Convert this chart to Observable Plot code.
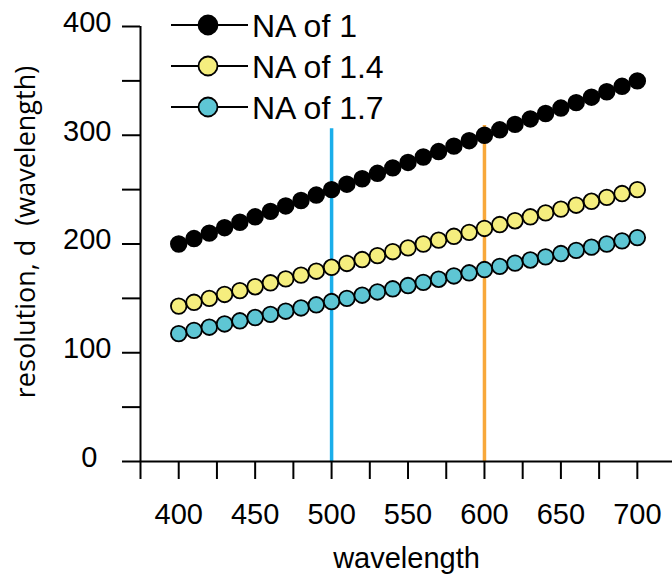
<!DOCTYPE html>
<html><head><meta charset="utf-8">
<script src="https://cdn.jsdelivr.net/npm/d3@7"></script>
<script src="https://cdn.jsdelivr.net/npm/@observablehq/plot@0.6"></script>
<style>
body{margin:0;background:#fff}
#chart{position:relative;width:672px;height:575px}
</style>
</head><body><div id="chart"></div>
<script>
// ---- data ----
const wavelengths = [400,410,420,430,440,450,460,470,480,490,500,510,520,530,540,550,560,570,580,590,600,610,620,630,640,650,660,670,680,690,700];
const seriesNames = ["NA of 1", "NA of 1.4", "NA of 1.7"];
const seriesFills = ["#000000", "#f5ee7e", "#5ec6d4"];
const naOf1 = [200,205,210,215,220,225,230,235,240,245,250,255,260,265,270,275,280,285,290,295,300,305,310,315,320,325,330,335,340,345,350];
const naOf14 = [142.9,146.4,150.0,153.6,157.1,160.7,164.3,167.9,171.4,175.0,178.6,182.1,185.7,189.3,192.9,196.4,200.0,203.6,207.1,210.7,214.3,217.9,221.4,225.0,228.6,232.1,235.7,239.3,242.9,246.4,250.0];
const naOf17 = [117.6,120.6,123.5,126.5,129.4,132.4,135.3,138.2,141.2,144.1,147.1,150.0,152.9,155.9,158.8,161.8,164.7,167.6,170.6,173.5,176.5,179.4,182.4,185.3,188.2,191.2,194.1,197.1,200.0,202.9,205.9];
const guideWavelengths = [500, 600];
const guideTops = [306, 309];
const guideColors = ["#1aaeea", "#f8a83a"];
const xTicks = [375,400,425,450,475,500,525,550,575,600,625,650,675,700];
const xTickLabels = [400,450,500,550,600,650,700];
const yTicks = [0,50,100,150,200,250,300,350,400];
const yTickLabels = [100,200,300,400];
const yZeroLabel = [0];
const xTitle = "wavelength";
const yTitle = "resolution, d  (wavelength)";

// ---- build table ----
const seriesValues = [naOf1, naOf14, naOf17];
const rows = [];
seriesNames.forEach((name, i) => {
  seriesValues[i].forEach((v, j) => rows.push({series: name, wl: wavelengths[j], d: v}));
});
const guides = guideWavelengths.map((w, i) => ({wl: w, top: guideTops[i], color: guideColors[i]}));

const font = "'Liberation Sans', Arial, Helvetica, sans-serif";
const fs = 29;

const chart = Plot.plot({
  width: 672,
  height: 575,
  marginLeft: 140,
  marginRight: 0,
  marginTop: 26,
  marginBottom: 114,
  x: {domain: [375, 723], axis: null},
  y: {domain: [0, 400], axis: null},
  color: {domain: seriesNames, range: seriesFills},
  style: {fontFamily: font, background: "white", color: "black", overflow: "visible"},
  marks: [
    Plot.ruleX(guides, {x: "wl", y1: 0, y2: "top", stroke: "color", strokeWidth: 3.5}),
    Plot.ruleY([0], {x1: 375, x2: 723, stroke: "black", strokeWidth: 2}),
    Plot.ruleX([375], {y1: 0, y2: 400, stroke: "black", strokeWidth: 2}),
    Plot.axisX({ticks: xTicks, tickSize: 18, strokeWidth: 2, tickPadding: 24, fontSize: fs,
      tickFormat: d => xTickLabels.includes(d) ? String(d) : "", label: null}),
    Plot.axisY({ticks: yTicks, tickSize: 18, strokeWidth: 2, text: null, label: null}),
    Plot.axisY({ticks: yTickLabels, tickSize: 18, stroke: "none", tickPadding: 11, dy: -4, fontSize: fs, label: null}),
    Plot.axisY({ticks: yZeroLabel, tickSize: 18, stroke: "none", tickPadding: 25, dy: -4, fontSize: fs, label: null}),
    Plot.text([xTitle], {frameAnchor: "bottom", dy: 97, fontSize: fs, textAnchor: "middle", lineAnchor: "middle", text: d => d}),
    Plot.text([yTitle], {frameAnchor: "left", dx: -114, dy: -12, rotate: -90, fontSize: 27,
      fontFamily: "'Open Sans', 'Liberation Sans', sans-serif", textAnchor: "middle", lineAnchor: "middle", text: d => d}),
    Plot.line(rows, {x: "wl", y: "d", z: "series", stroke: "black", strokeWidth: 1.5}),
    Plot.dot(rows, {x: "wl", y: "d", r: 7.8, fill: "series", stroke: "black", strokeWidth: 1.8})
  ]
});
document.getElementById("chart").appendChild(chart);

// ---- legend (drawn inside the plot svg with d3, from the series arrays) ----
const svg = d3.select(chart);
const lg = svg.append("g").attr("font-family", font).attr("text-anchor", "start");
seriesNames.forEach((name, i) => {
  const y = 25 + i * 41;
  lg.append("line").attr("x1", 171).attr("x2", 248).attr("y1", y).attr("y2", y)
    .attr("stroke", "black").attr("stroke-width", 1.8);
  lg.append("circle").attr("cx", 208).attr("cy", y).attr("r", 9.5)
    .attr("fill", seriesFills[i]).attr("stroke", "black").attr("stroke-width", 1.8);
  lg.append("text").attr("x", 252).attr("y", y).attr("dy", "0.36em")
    .attr("font-size", 32).attr("fill", "black").attr("text-anchor", "start").text(name);
});
</script>
</body></html>
